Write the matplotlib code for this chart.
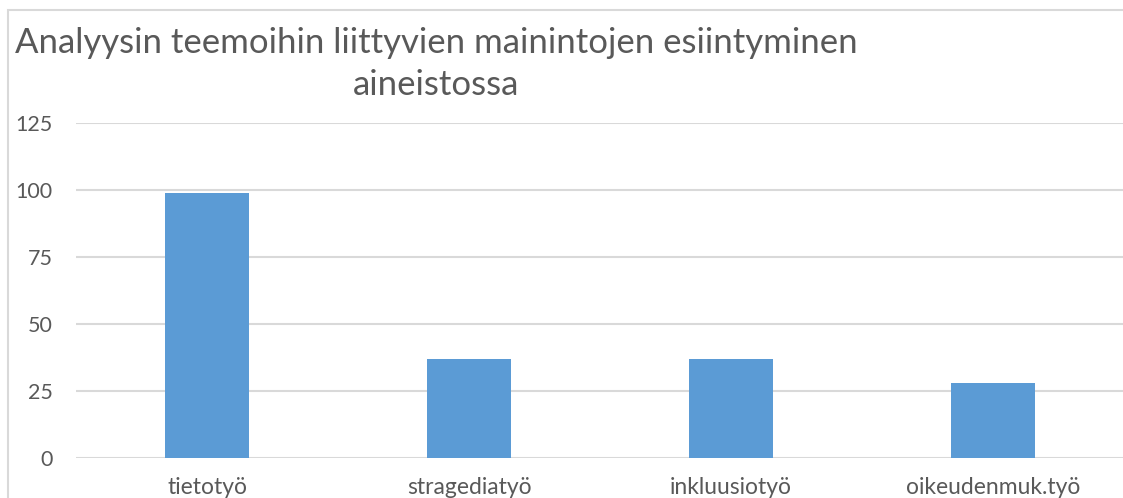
import matplotlib.pyplot as plt
from matplotlib.patches import Rectangle

# Data.
categories = ['tietotyö', 'stragediatyö', 'inkluusiotyö', 'oikeudenmuk.työ']
mentions = [99, 37, 37, 28]
y_ticks = [0, 25, 50, 75, 100, 125]

W, H = 1123, 498
plt.rcParams['font.family'] = ['Lato', 'DejaVu Sans']

fig = plt.figure(figsize=(W / 100, H / 100), dpi=100)

# chart area border (light gray, cropped on right and bottom)
fig.patches.append(Rectangle((8 / W, -0.1), 1.2, 1 - 10 / H + 0.1, transform=fig.transFigure,
                             fill=False, edgecolor='#D9D9D9', linewidth=1.5))

ax = fig.add_axes([76 / W, (H - 458) / H, 1048 / W, (458 - 123) / H])
ax.bar(range(len(categories)), mentions, width=0.32, color='#5B9BD5', zorder=3)

ax.set_xlim(-0.5, len(categories) - 0.5)
ax.set_ylim(0, 125)
ax.set_yticks(y_ticks)
ax.set_xticks(range(len(categories)))
ax.set_xticklabels(categories)
ax.yaxis.grid(True, color='#D9D9D9', linewidth=1.5, zorder=0)
ax.tick_params(axis='both', length=0, labelcolor='#595959')
ax.tick_params(axis='y', pad=17, labelsize=15.5)
ax.tick_params(axis='x', pad=13.5, labelsize=16.5)
for s in ax.spines.values():
    s.set_visible(False)

fig.text(436 / W, 1 - 64 / H, 'Analyysin teemoihin liittyvien mainintojen esiintyminen\naineistossa',
         ha='center', va='center', multialignment='center', fontsize=25, color='#595959',
         linespacing=1.38)

fig.savefig('out.png', dpi=100)
